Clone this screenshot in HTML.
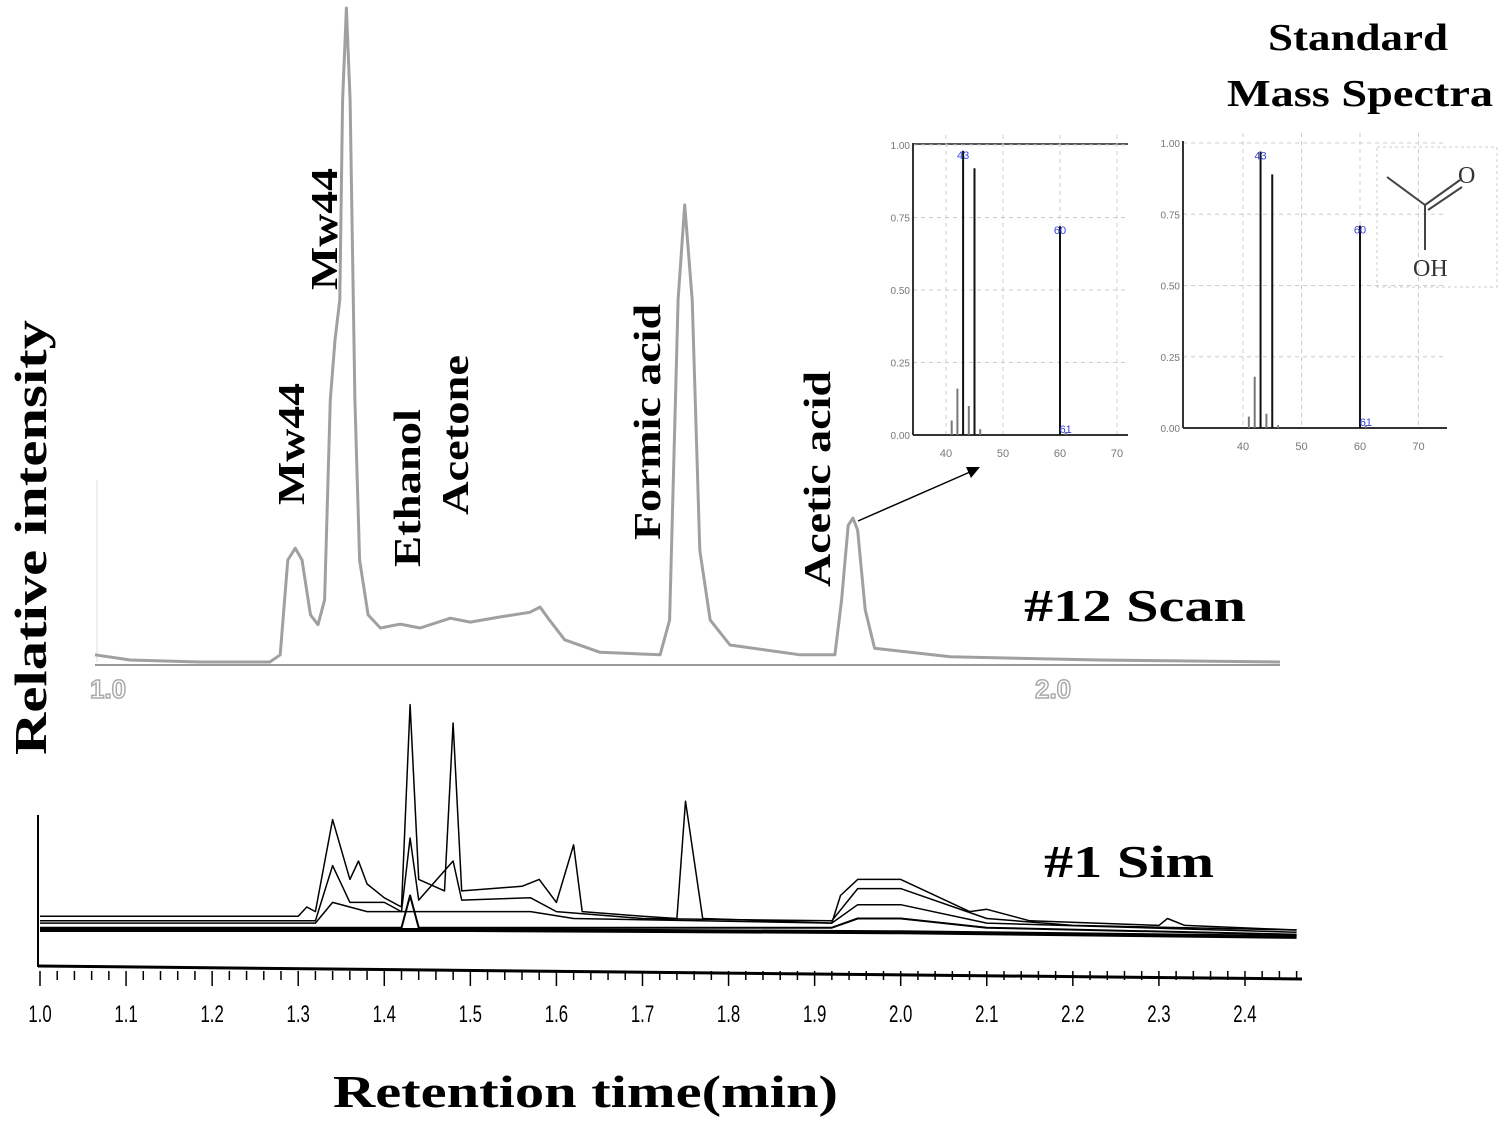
<!DOCTYPE html>
<html><head><meta charset="utf-8"><style>
html,body{margin:0;padding:0;background:#fff;}
svg{display:block;font-family:"Liberation Serif",serif;font-weight:bold;}
</style></head><body>
<svg id="fig" width="1498" height="1124" viewBox="0 0 1498 1124" xmlns="http://www.w3.org/2000/svg">
<g id="topPanel"></g>
<g id="bottomPanel"></g>
<g id="insetL"></g>
<g id="insetR"></g>
<g>
<text transform="translate(46,755) rotate(-90)" font-size="46" textLength="435" lengthAdjust="spacingAndGlyphs">Relative intensity</text>
<text x="333" y="1107" font-size="46" textLength="505" lengthAdjust="spacingAndGlyphs">Retention time(min)</text>
<text transform="translate(304,505) rotate(-90)" font-size="38" textLength="122" lengthAdjust="spacingAndGlyphs">Mw44</text>
<text transform="translate(337,290) rotate(-90)" font-size="38" textLength="122" lengthAdjust="spacingAndGlyphs">Mw44</text>
<text transform="translate(420,567) rotate(-90)" font-size="38" textLength="158" lengthAdjust="spacingAndGlyphs">Ethanol</text>
<text transform="translate(468,515) rotate(-90)" font-size="38" textLength="160" lengthAdjust="spacingAndGlyphs">Acetone</text>
<text transform="translate(660,540) rotate(-90)" font-size="38" textLength="236" lengthAdjust="spacingAndGlyphs">Formic acid</text>
<text transform="translate(830,587) rotate(-90)" font-size="38" textLength="216" lengthAdjust="spacingAndGlyphs">Acetic acid</text>
<text x="1024" y="621" font-size="46" textLength="222" lengthAdjust="spacingAndGlyphs">#12 Scan</text>
<text x="1044" y="877" font-size="46" textLength="170" lengthAdjust="spacingAndGlyphs">#1 Sim</text>
<text x="1268" y="50" font-size="38" textLength="180" lengthAdjust="spacingAndGlyphs">Standard</text>
<text x="1227" y="106" font-size="38" textLength="266" lengthAdjust="spacingAndGlyphs">Mass Spectra</text>
<line x1="858" y1="521" x2="970" y2="472" stroke="#000" stroke-width="1.5"/>
<polygon points="980,467 966,467 971,478" fill="#000"/>
</g>
<g stroke="#444" stroke-width="2" fill="none">
<rect x="1377" y="147" width="120" height="140" stroke="#ccc" stroke-width="1" stroke-dasharray="3 3"/>
<line x1="1387" y1="177" x2="1425" y2="205"/>
<line x1="1425" y1="205" x2="1460" y2="180"/>
<line x1="1428" y1="210" x2="1462" y2="187"/>
<line x1="1425" y1="205" x2="1425" y2="250"/>
<text x="1458" y="183" font-size="24" fill="#333" stroke="none" font-weight="normal">O</text>
<text x="1413" y="276" font-size="24" fill="#333" stroke="none" font-weight="normal">OH</text>
</g>
</svg>
<script>
// ---- #12 Scan trace data (time in min, relative intensity %) ----
const scanTimes=[1.000,1.037,1.111,1.185,1.196,1.204,1.212,1.219,1.228,1.236,1.243,1.249,1.254,1.259,1.262,1.266,1.270,1.275,1.280,1.289,1.302,1.323,1.344,1.376,1.397,1.429,1.460,1.471,1.481,1.497,1.534,1.598,1.608,1.617,1.624,1.632,1.640,1.651,1.672,1.746,1.783,1.790,1.797,1.802,1.807,1.815,1.825,1.905,2.063,2.254];
const scanIntensity=[1.1,0.3,0,0,1.1,15.6,17.4,15.6,7.2,5.7,9.5,40.1,49.2,55.4,85.9,100,85.9,40.1,15.6,7.2,5.2,5.8,5.2,6.7,6.1,6.9,7.6,8.4,6.4,3.4,1.5,1.1,6.4,55.4,69.9,55.4,17.1,6.4,2.6,1.1,1.1,9.5,20.9,22.0,20.2,8.0,2.1,0.8,0.3,0];
const scanTickLabels=["1.0","2.0"];
const scanTickValues=[1.0,2.0];
// ---- #1 SIM traces ----
const simT1=[1.0,1.30,1.31,1.32,1.34,1.36,1.37,1.38,1.40,1.42,1.43,1.44,1.47,1.48,1.49,1.56,1.58,1.60,1.62,1.63,1.70,1.74,1.75,1.77,1.92,1.93,1.95,2.00,2.08,2.10,2.15,2.30,2.31,2.33,2.46];
const simI1=[6,6,10,8,48,22,30,20,14,10,98,22,17,90,17,19,22,12,37,8,6,5,56,5,3,15,22,22,8,9,4,2,5,2,0];
const simT2=[1.0,1.32,1.34,1.36,1.40,1.42,1.43,1.44,1.48,1.49,1.57,1.60,1.70,1.92,1.95,2.00,2.10,2.20,2.46];
const simI2=[4,4,28,12,12,8,40,13,30,13,14,8,5,4,18,18,5,2,0];
const simT3=[1.0,1.32,1.34,1.38,1.57,1.62,1.92,1.95,2.00,2.10,2.46];
const simI3=[3,3,12,8,8,5,3,11,11,3,-1];
const simT4=[1.0,1.42,1.43,1.44,1.92,1.95,2.00,2.10,2.46];
const simI4=[1,1,15,1,1,5,5,1,-2];
const simT5=[1.0,1.5,2.0,2.46];
const simI5=[0,0,-1,-3];
const simTickLabels=["1.0","1.1","1.2","1.3","1.4","1.5","1.6","1.7","1.8","1.9","2.0","2.1","2.2","2.3","2.4"];
const simTickValues=[1.0,1.1,1.2,1.3,1.4,1.5,1.6,1.7,1.8,1.9,2.0,2.1,2.2,2.3,2.4];
// ---- mass spectra ----
const msMz=[41,42,43,44,45,46,60,61];
const msMeasured=[0.05,0.16,0.98,0.10,0.92,0.02,0.72,0.01];
const msStandard=[0.04,0.18,0.97,0.05,0.89,0.01,0.71,0.01];
const msTickLabels=["40","50","60","70"];
const msTickValues=[40,50,60,70];
const msYTicks=["0.00","0.25","0.50","0.75","1.00"];
const msYValues=[0,0.25,0.5,0.75,1.0];

const NS="http://www.w3.org/2000/svg";
function mk(tag,attrs,parent){const e=document.createElementNS(NS,tag);for(const k in attrs)e.setAttribute(k,attrs[k]);parent.appendChild(e);return e;}

// top panel scales
const sx=t=>95+(t-1)*945;
const sy=v=>662-v*6.54;
const scanG=document.getElementById('topPanel');
let ax=mk('line',{x1:95,y1:665,x2:1280,y2:665,stroke:'#999','stroke-width':2},scanG);


let fl=mk('line',{x1:97,y1:480,x2:97,y2:662,stroke:'#ddd','stroke-width':1},scanG);


scanTickValues.forEach((v,i)=>{
  const t=mk('text',{x:sx(v)-5,y:698,'font-size':26,fill:'#fff',stroke:'#aaa','stroke-width':1.5,'font-family':'Liberation Sans,sans-serif'},scanG);
  t.textContent=scanTickLabels[i];
  
  
});
let d='';scanTimes.forEach((t,i)=>{d+=(i?'L':'M')+sx(t).toFixed(1)+','+sy(scanIntensity[i]).toFixed(1);});
const sp=mk('path',{d:d,fill:'none',stroke:'#a0a0a0','stroke-width':3,'stroke-linejoin':'round'},scanG);



// bottom panel
const bx=t=>40+(t-1)*860.7;
const by=v=>930-v*2.3;
const simG=document.getElementById('bottomPanel');
let yl=mk('line',{x1:38,y1:815,x2:38,y2:967,stroke:'#000','stroke-width':2},simG);


let xl=mk('line',{x1:38,y1:966,x2:1302,y2:979,stroke:'#000','stroke-width':3},simG);


for(let k=0;k<=73;k++){
  const v=1+k*0.02;const x=bx(v);const major=(k%5===0);
  const tk=mk('line',{x1:x,y1:971,x2:x,y2:major?986:980,stroke:'#000','stroke-width':1.5},simG);
  
  
}
simTickValues.forEach((v,i)=>{
  const t=mk('text',{x:bx(v),y:1022,'font-size':24,'text-anchor':'middle','font-family':'Liberation Sans Narrow,Liberation Sans,sans-serif','font-weight':'normal',transform:`translate(${bx(v)},0) scale(0.7,1) translate(${-bx(v)},0)`},simG);
  t.textContent=simTickLabels[i];
  
  
});
const series=[[simT1,simI1,1.5],[simT2,simI2,1.5],[simT3,simI3,1.5],[simT4,simI4,2],[simT5,simI5,4]];
series.forEach((s,j)=>{
  let dd='';s[0].forEach((t,i)=>{dd+=(i?'L':'M')+bx(t).toFixed(1)+','+by(s[1][i]).toFixed(1);});
  const p=mk('path',{d:dd,fill:'none',stroke:'#000','stroke-width':s[2],'stroke-linejoin':'round'},simG);
  
  
});

// mass spectra insets
function inset(g,x0,x1,y0,y1,mz40,mz60,vals,name){
  const mx=m=>mz40+(m-40)*(mz60-mz40)/20;
  const my=v=>y0-(y0-y1)*v;
  msYValues.forEach((v,i)=>{
    const gl=mk('line',{x1:x0,y1:my(v),x2:x1,y2:my(v),stroke:'#ccc','stroke-width':1,'stroke-dasharray':'4 4'},g);
    
    
    const t=mk('text',{x:x0-3,y:my(v)+4,'font-size':10,'text-anchor':'end',fill:'#777','font-weight':'normal','font-family':'Liberation Sans,sans-serif'},g);
    t.textContent=msYTicks[i];
    
    
  });
  msTickValues.forEach((v,i)=>{
    const gl=mk('line',{x1:mx(v),y1:y1-10,x2:mx(v),y2:y0,stroke:'#ccc','stroke-width':1,'stroke-dasharray':'4 4'},g);
    
    
    const t=mk('text',{x:mx(v),y:y0+22,'font-size':11,'text-anchor':'middle',fill:'#777','font-weight':'normal','font-family':'Liberation Sans,sans-serif'},g);
    t.textContent=msTickLabels[i];
    
    
  });
  const a1=mk('line',{x1:x0,y1:y1-2,x2:x0,y2:y0,stroke:'#333','stroke-width':2},g);
  
  
  const a2=mk('line',{x1:x0,y1:y0,x2:x1,y2:y0,stroke:'#333','stroke-width':2},g);
  
  
  msMz.forEach((m,i)=>{
    const b=mk('line',{x1:mx(m),y1:y0,x2:mx(m),y2:my(vals[i]),stroke:vals[i]>0.3?'#111':'#777','stroke-width':2},g);
    
    
  });
  [[43,'43'],[60,'60'],[61,'61']].forEach(([m,l])=>{
    const idx=msMz.indexOf(m);
    const t=mk('text',{x:mx(m),y:m===61?my(0)-2:my(vals[idx])+8,'font-size':11,fill:'#3344dd','text-anchor':'middle','font-weight':'normal','font-family':'Liberation Sans,sans-serif'},g);
    t.textContent=l;
    
    
  });
}
const gL=document.getElementById('insetL');
const tl=mk('line',{x1:913,y1:144,x2:1128,y2:144,stroke:'#555','stroke-width':2},gL);


inset(gL,913,1128,435,145,946,1060,msMeasured,'measured');
inset(document.getElementById('insetR'),1183,1447,428,143,1243,1360,msStandard,'standard');
</script>
</body></html>
